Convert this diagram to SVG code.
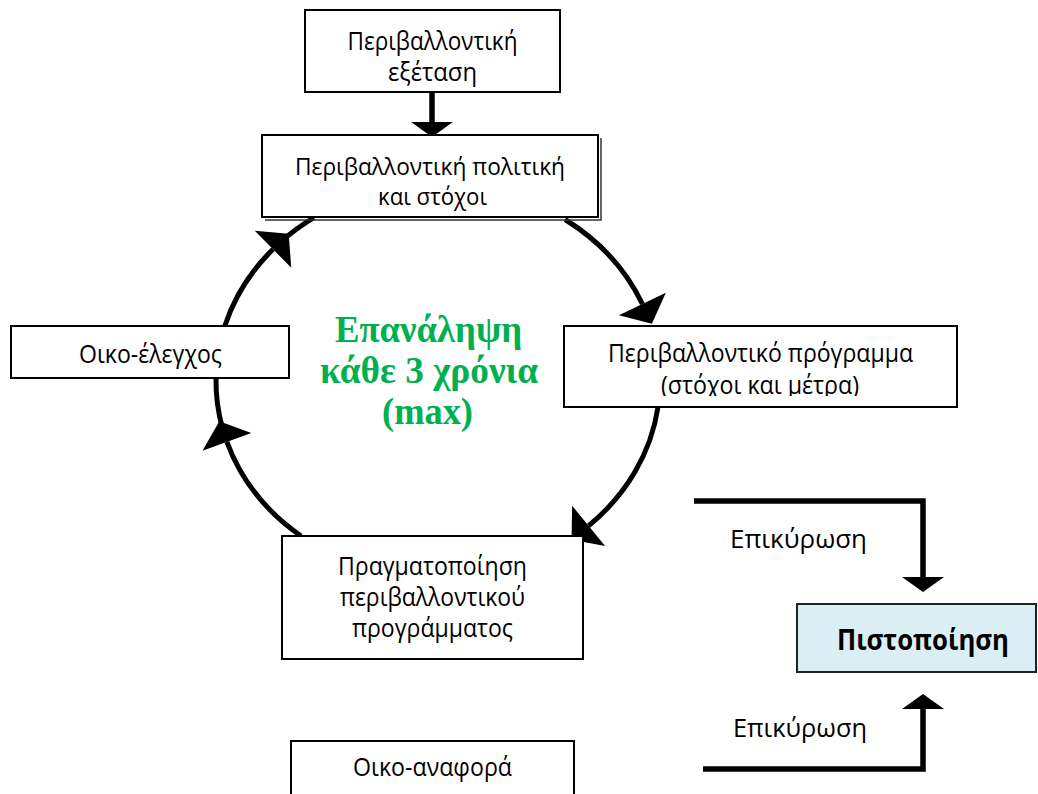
<svg xmlns="http://www.w3.org/2000/svg" width="1038" height="794" viewBox="0 0 1038 794">
<style>
  .box { fill: #ffffff; stroke: #000000; stroke-width: 2; }
  .cert { fill: #DAEEF3; stroke: #222222; stroke-width: 2; }
  .t { font-family: "Open Sans", "Noto Sans", sans-serif; font-size: 25px; fill: #000000; text-anchor: middle; }
  .tb { font-family: "Open Sans", "Noto Sans", sans-serif; font-size: 28px; font-weight: bold; fill: #000000; text-anchor: middle; }
  .g { font-family: "Liberation Serif", "Times New Roman", serif; font-size: 37px; font-weight: bold; fill: #00B050; text-anchor: middle; }
  .arc { fill: none; stroke: #000000; stroke-width: 5; }
  .arr { fill: none; stroke: #000000; stroke-width: 5.5; stroke-linejoin: miter; }
</style>
<defs>
  <marker id="arcHead" markerUnits="userSpaceOnUse" viewBox="0 -26 22 52" refX="0" refY="0" markerWidth="22" markerHeight="52" orient="auto" overflow="visible">
    <path d="M0,-26 L22,0 L0,26 Z" fill="#000000"/>
  </marker>
  <marker id="head" markerUnits="userSpaceOnUse" viewBox="0 -21 15 42" refX="0" refY="0" markerWidth="15" markerHeight="42" orient="auto" overflow="visible">
    <path d="M0,-21 L15,0 L0,21 Z" fill="#000000"/>
  </marker>
  <clipPath id="clip3">
    <rect x="564" y="326" width="393" height="70"/>
  </clipPath>
</defs>
<rect x="0" y="0" width="1038" height="794" fill="#ffffff"/>

<g id="connectors">
  <path class="arr" d="M432,92 V122" stroke-width="7" marker-end="url(#head)"/>
  <path class="arc" d="M565.1,219.5 A222,197 0 0 1 642.4,304" marker-end="url(#arcHead)"/>
  <path class="arc" d="M658,407 A222,197 0 0 1 588.6,525.8" marker-end="url(#arcHead)"/>
  <path class="arc" d="M301,536 A222,197 0 0 1 226.9,441.9" marker-end="url(#arcHead)"/>
  <path class="arc" d="M222.6,428.7 A222,197 0 0 1 216,377.9"/>
  <path class="arc" d="M224.8,326 A222,197 0 0 1 273,249.2" marker-end="url(#arcHead)"/>
  <path class="arc" d="M281,241.7 A222,197 0 0 1 313.9,217.7"/>
  <path class="arr" d="M694,501 H923 V577" marker-end="url(#head)"/>
  <path class="arr" d="M703,769 H923 V709" marker-end="url(#head)"/>
</g>

<g id="node-examination">
  <rect class="box" x="305" y="10" width="255" height="82"/>
  <text class="t" x="432.5" y="50" textLength="170" lengthAdjust="spacingAndGlyphs">Περιβαλλοντική</text>
  <text class="t" x="432.5" y="81" textLength="89" lengthAdjust="spacingAndGlyphs">εξέταση</text>
</g>

<g id="node-policy">
  <polyline points="265,220 601,220 601,138" fill="none" stroke="#333333" stroke-width="1.5"/>
  <rect class="box" x="262" y="135" width="336" height="82"/>
  <text class="t" x="430" y="175" style="font-size:23px" textLength="270" lengthAdjust="spacingAndGlyphs">Περιβαλλοντική πολιτική</text>
  <text class="t" x="432.5" y="205" style="font-size:23px" textLength="109" lengthAdjust="spacingAndGlyphs">και στόχοι</text>
</g>

<g id="node-audit">
  <rect class="box" x="11" y="326" width="278" height="52"/>
  <text class="t" x="150.5" y="363" textLength="143" lengthAdjust="spacingAndGlyphs">Οικο-έλεγχος</text>
</g>

<g id="node-program">
  <rect class="box" x="564" y="326" width="393" height="81"/>
  <text class="t" x="760.5" y="362" textLength="305" lengthAdjust="spacingAndGlyphs">Περιβαλλοντικό πρόγραμμα</text>
  <text class="t" x="760" y="394" textLength="198" lengthAdjust="spacingAndGlyphs" clip-path="url(#clip3)">(στόχοι και μέτρα)</text>
</g>

<g id="node-implementation">
  <rect class="box" x="282" y="536" width="301" height="123"/>
  <text class="t" x="432.5" y="575" textLength="189" lengthAdjust="spacingAndGlyphs">Πραγματοποίηση</text>
  <text class="t" x="432.5" y="606" textLength="185" lengthAdjust="spacingAndGlyphs">περιβαλλοντικού</text>
  <text class="t" x="432.5" y="637" textLength="161" lengthAdjust="spacingAndGlyphs">προγράμματος</text>
</g>

<g id="node-report">
  <rect class="box" x="291" y="741" width="283" height="70"/>
  <text class="t" x="432.5" y="776" textLength="159" lengthAdjust="spacingAndGlyphs">Οικο-αναφορά</text>
</g>

<g id="node-certification">
  <rect class="cert" x="797" y="604" width="239" height="68"/>
  <text class="tb" x="923" y="650" textLength="172" lengthAdjust="spacingAndGlyphs">Πιστοποίηση</text>
</g>

<g id="label-repeat">
  <text class="g" x="428.5" y="342" textLength="187" lengthAdjust="spacingAndGlyphs">Επανάληψη</text>
  <text class="g" x="429" y="383" textLength="218" lengthAdjust="spacingAndGlyphs">κάθε 3 χρόνια</text>
  <text class="g" x="427.5" y="424" textLength="91" lengthAdjust="spacingAndGlyphs">(max)</text>
</g>

<g id="labels-validation">
  <text class="t" x="798.5" y="548" textLength="137" lengthAdjust="spacingAndGlyphs">Επικύρωση</text>
  <text class="t" x="800" y="737" textLength="134" lengthAdjust="spacingAndGlyphs">Επικύρωση</text>
</g>
</svg>
